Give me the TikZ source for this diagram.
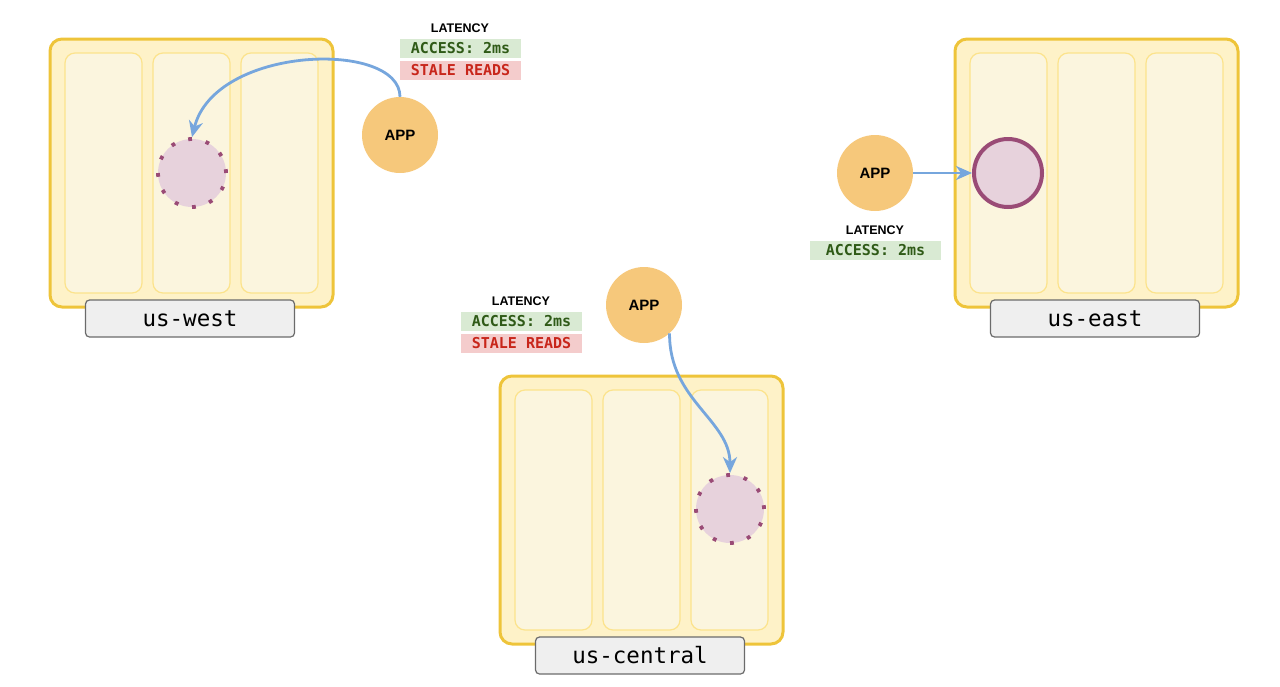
\documentclass[tikz,border=0pt]{standalone}
\usepackage{fontspec}
\setmainfont{Liberation Sans}
\setmonofont{DejaVu Sans Mono}
\usetikzlibrary{arrows.meta}

% Colours
\definecolor{regionFill}{HTML}{FEF2C8}
\definecolor{regionLine}{HTML}{EEC43A}
\definecolor{zoneFill}{HTML}{FBF5DE}
\definecolor{zoneLine}{HTML}{FCE38C}
\definecolor{labelFill}{HTML}{EFEFEF}
\definecolor{labelLine}{HTML}{6B6B6B}
\definecolor{appFill}{HTML}{F6C87B}
\definecolor{replicaFill}{HTML}{E7D2DC}
\definecolor{replicaLine}{HTML}{9A4B76}
\definecolor{arrowBlue}{HTML}{76A6DD}
\definecolor{okFill}{HTML}{D9EAD3}
\definecolor{okText}{HTML}{2F5A17}
\definecolor{badFill}{HTML}{F4CCCC}
\definecolor{badText}{HTML}{C8261B}

\providecommand{\regionW}{283}
\providecommand{\regionH}{268}

\begin{document}
\begin{tikzpicture}[x=1pt, y=-1pt,
  regionbox/.style={draw=regionLine, fill=regionFill, line width=3pt, rounded corners=12pt},
  zonebox/.style={draw=zoneLine, fill=zoneFill, line width=1.2pt, rounded corners=10pt},
  regionlabel/.style={draw=labelLine, fill=labelFill, line width=1.2pt, rounded corners=4pt,
    minimum width=209pt, minimum height=37pt, inner sep=0pt, font=\ttfamily\fontsize{22.5}{24}\selectfont},
  app/.style={circle, fill=appFill, minimum size=76pt, inner sep=0pt, font=\bfseries\fontsize{15}{17}\selectfont},
  replica/.style={circle, fill=replicaFill, minimum size=68pt, inner sep=0pt},
  follower/.style={replica, draw=replicaLine, line width=3.8pt, dash pattern=on 3.8pt off 14pt},
  leader/.style={replica, draw=replicaLine, line width=4pt},
  latency/.style={font=\bfseries\fontsize{12.5}{14}\selectfont, inner sep=0pt},
  okbox/.style={fill=okFill, text=okText, minimum width=121pt, minimum height=19pt, inner sep=0pt,
    font=\ttfamily\bfseries\fontsize{15}{16}\selectfont},
  badbox/.style={okbox, fill=badFill, text=badText},
  access/.style={draw=arrowBlue, line width=2.8pt, -{Stealth[length=16pt,width=14pt,inset=5pt]}}]
\useasboundingbox (0,0) rectangle (1280,686);

% Regions with three zones each
\foreach \rx/\ry/\rname in {50/39/us-west, 955/39/us-east, 500/376/us-central}{
  \begin{scope}[shift={(\rx,\ry)}]
    \draw[regionbox] (0,0) rectangle (\regionW,\regionH);
    \foreach \cx in {15,103,191}
      \draw[zonebox] (\cx,14) rectangle ++(77,240);
    \node[regionlabel] (label-\rname) at (140,279.5) {\rname};
  \end{scope}
}

% Replicas
\node[follower] (rep-w) at (192,173) {};
\node[leader] (rep-e) at (1008,173) {};
\node[follower] (rep-c) at (730,509) {};

% Applications
\node[app] (app-w) at (400,135) {APP};
\node[app] (app-e) at (875,173) {APP};
\node[app] (app-c) at (644,305) {APP};

% Latency notes
\node[latency] (lat-w) at (460,28) {LATENCY};
\node[okbox] (ok-w) at (460.5,48.5) {ACCESS: 2ms};
\node[badbox] (bad-w) at (460.5,70.5) {STALE READS};

\node[latency] (lat-e) at (875,230) {LATENCY};
\node[okbox, minimum width=131pt] (ok-e) at (875.5,250.5) {ACCESS: 2ms};

\node[latency] (lat-c) at (521,301) {LATENCY};
\node[okbox] (ok-c) at (521.5,321.5) {ACCESS: 2ms};
\node[badbox] (bad-c) at (521.5,343.5) {STALE READS};

% Reads
\draw[access] (app-w.north) .. controls (400,40) and (215,45) .. (rep-w.north);
\draw[access] (app-e.east) -- (rep-e.west);
\draw[access] (app-c.-48) .. controls (669,400) and (730,420) .. (rep-c.north);
\end{tikzpicture}
\end{document}
